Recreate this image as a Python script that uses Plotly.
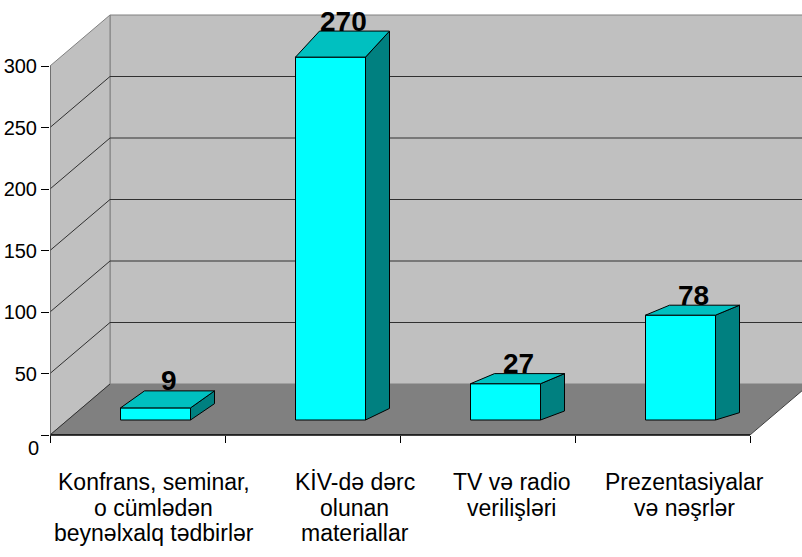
import plotly.graph_objects as go

# ---------------- data ----------------
categories = [
    "Konfrans, seminar,<br>o cümlədən<br>beynəlxalq tədbirlər",
    "KİV-də dərc<br>olunan<br>materiallar",
    "TV və radio<br>verilişləri",
    "Prezentasiyalar<br>və nəşrlər",
]
values = [9, 270, 27, 78]
y_ticks = [0, 50, 100, 150, 200, 250, 300]
y_tick_text = ["0", "50", "100", "150", "200", "250", "300"]

# ---------------- layout / geometry (pixels) ----------------
W, H = 802, 557
ML = 50                      # left margin = front y-axis position
CAT_PX = 175                 # width of one category on the front plane
Y0_FRONT, PPU_FRONT = 435, 1.23      # front plane: zero line and px per unit
Y0_BAR, PPU_BAR = 420, 1.344         # bar plane (deeper in the 3-D box)
BAR_SHIFT_PX = 18            # bar plane shifted right vs front plane
BAR_WIDTH = 0.4
DEPTH_PX = 24                # bar depth (horizontal)
VX, VY = -237, 711           # projection centre for bar depth lines
WALL_DX, WALL_DY = 60, 51    # depth of the chart box
LABEL_DX_PX = 13
LABEL_XSHIFT = [16, 42, 24, 22]
LABEL_LINE_PX = [482, 508, 533]
ZERO_LABEL_PX = 448

FRONT_FACE = "#00FFFF"
TOP_FACE = "#00C0C0"
SIDE_FACE = "#008080"
WALL = "#C0C0C0"
FLOOR = "#808080"
EDGE = "#808080"
GRID = "#303030"

n = len(values)
x_rng = [-0.5, -0.5 + (W - ML) / CAT_PX]
y_rng = [(Y0_FRONT - H) / PPU_FRONT, Y0_FRONT / PPU_FRONT]
x2_rng = [r - BAR_SHIFT_PX / CAT_PX for r in x_rng]
y2_rng = [(Y0_BAR - H) / PPU_BAR, Y0_BAR / PPU_BAR]


def x2_px(x):
    return ML + BAR_SHIFT_PX + (x + 0.5) * CAT_PX


def px_x2(px):
    return (px - ML - BAR_SHIFT_PX) / CAT_PX - 0.5


def y2_px(v):
    return Y0_BAR - PPU_BAR * v


def px_y2(py):
    return (Y0_BAR - py) / PPU_BAR


def px_y(py):
    return (Y0_FRONT - py) / PPU_FRONT


def depth_dy(px, py):
    return DEPTH_PX * (VY - py) / (px - VX)


fig = go.Figure()

# front faces of the bars
fig.add_trace(go.Bar(
    x=list(range(n)), y=values, width=BAR_WIDTH,
    xaxis="x2", yaxis="y2",
    marker=dict(color=FRONT_FACE, line=dict(color="black", width=1)),
    cliponaxis=False, hoverinfo="skip", showlegend=False,
))

# top and side faces computed from the values
for i, v in enumerate(values):
    pxl = x2_px(i - BAR_WIDTH / 2)
    pxr = x2_px(i + BAR_WIDTH / 2)
    pyt = y2_px(v)
    pyb = y2_px(0)
    dyt = depth_dy(pxr, pyt)
    dyb = depth_dy(pxr, pyb)
    top = [(pxl, pyt), (pxr, pyt), (pxr + DEPTH_PX, pyt - dyt), (pxl + DEPTH_PX, pyt - dyt), (pxl, pyt)]
    side = [(pxr, pyb), (pxr, pyt), (pxr + DEPTH_PX, pyt - dyt), (pxr + DEPTH_PX, pyb - dyb), (pxr, pyb)]
    for poly, col in ((side, SIDE_FACE), (top, TOP_FACE)):
        fig.add_trace(go.Scatter(
            x=[px_x2(p[0]) for p in poly], y=[px_y2(p[1]) for p in poly],
            xaxis="x2", yaxis="y2", mode="lines", fill="toself",
            fillcolor=col, line=dict(color="black", width=1),
            hoverinfo="skip", showlegend=False,
        ))
    # value label above the top face
    fig.add_annotation(
        x=i + LABEL_DX_PX / CAT_PX, y=px_y2(pyt - dyt), xref="x2", yref="y2",
        text=str(v), showarrow=False, yanchor="middle", yshift=10,
        font=dict(family="Liberation Sans Narrow, Arial Narrow, Liberation Sans", size=28,
                  color="black", weight="bold"),
    )

# ---------------- 3-D box (walls, floor, gridlines) ----------------
bdx = WALL_DX / CAT_PX
bdv = WALL_DY / PPU_FRONT
xb = -0.5 + bdx
x_far = x_rng[1] + 1
x_end = -0.5 + n
shapes = []
# back wall
shapes.append(dict(type="rect", xref="x", yref="y", x0=xb, x1=x_far, y0=bdv, y1=300 + bdv,
                   fillcolor=WALL, line=dict(color=EDGE, width=1), layer="below"))
# side wall
shapes.append(dict(type="path", xref="x", yref="y",
                   path=f"M -0.5,0 L -0.5,300 L {xb},{300 + bdv} L {xb},{bdv} Z",
                   fillcolor=WALL, line=dict(color=EDGE, width=1), layer="below"))
# floor
shapes.append(dict(type="path", xref="x", yref="y",
                   path=f"M -0.5,0 L {x_end},0 L {x_end + bdx},{bdv} L {xb},{bdv} Z",
                   fillcolor=FLOOR, line=dict(width=0), layer="below"))
# gridlines
for t in y_ticks[1:-1]:
    shapes.append(dict(type="line", xref="x", yref="y", x0=-0.5, y0=t, x1=xb, y1=t + bdv,
                       line=dict(color=GRID, width=1), layer="below"))
    shapes.append(dict(type="line", xref="x", yref="y", x0=xb, y0=t + bdv, x1=x_far, y1=t + bdv,
                       line=dict(color=GRID, width=1), layer="below"))
# floor edges
shapes.append(dict(type="line", xref="x", yref="y", x0=-0.5, y0=0, x1=xb, y1=bdv,
                   line=dict(color=GRID, width=1), layer="below"))
shapes.append(dict(type="line", xref="x", yref="y", x0=x_end, y0=0, x1=x_end + bdx, y1=bdv,
                   line=dict(color="#404040", width=1), layer="below"))
shapes.append(dict(type="line", xref="x", yref="y", x0=-0.5, y0=0, x1=x_end, y1=0,
                   line=dict(color="black", width=1.5), layer="below"))
# y axis line
shapes.append(dict(type="line", xref="x", yref="y", x0=-0.5, y0=0, x1=-0.5, y1=300,
                   line=dict(color="#606060", width=1.5), layer="below"))

# ---------------- category labels ----------------
label_font = dict(family="Liberation Sans, Arial", size=23, color="black")
for i, cat in enumerate(categories):
    for j, line in enumerate(cat.split("<br>")):
        fig.add_annotation(x=i, y=px_y(LABEL_LINE_PX[j]), xref="x", yref="y",
                           text=line, showarrow=False, xshift=LABEL_XSHIFT[i],
                           yanchor="middle", font=label_font)
# zero label sits lower in the original
fig.add_annotation(x=-0.5, y=px_y(ZERO_LABEL_PX), xref="x", yref="y", text=y_tick_text[0],
                   showarrow=False, xanchor="right", xshift=-9, yanchor="middle",
                   font=dict(family="Liberation Sans, Arial", size=20, color="black"))

fig.update_layout(
    width=W, height=H,
    margin=dict(l=ML, r=0, t=0, b=0),
    paper_bgcolor="white", plot_bgcolor="white",
    showlegend=False, shapes=shapes,
    xaxis=dict(range=x_rng, showgrid=False, zeroline=False, showline=False,
               tickvals=[k - 0.5 for k in range(n + 1)], ticks="outside", ticklen=7,
               tickcolor="black", showticklabels=False, anchor="free",
               position=(H - Y0_FRONT) / H, fixedrange=True),
    yaxis=dict(range=y_rng, showgrid=False, zeroline=False, showline=False,
               tickvals=y_ticks, ticktext=[""] + y_tick_text[1:], ticks="outside", ticklen=8,
               tickcolor="black",
               tickfont=dict(family="Liberation Sans, Arial", size=20, color="black"),
               anchor="x", fixedrange=True),
    xaxis2=dict(range=x2_rng, overlaying="x", anchor="y2", visible=False, fixedrange=True),
    yaxis2=dict(range=y2_rng, overlaying="y", anchor="x2", visible=False, fixedrange=True),
    bargap=0,
)

fig.write_html(
    "out.html",
    config={"displayModeBar": False, "staticPlot": True},
    post_script="document.body.style.margin='0px';document.body.style.overflow='hidden';",
)
